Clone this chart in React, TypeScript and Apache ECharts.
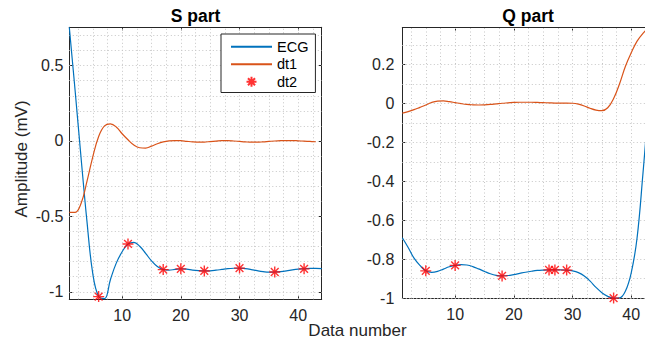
import React, { useEffect, useRef } from 'react';
import * as echarts from 'echarts';

// ---- data ----
const ecgS = [
  0.754, 0.33, -0.11, -0.53, -0.88, -1.032, -1.045, -0.92, -0.81, -0.735,
  -0.683, -0.672, -0.698, -0.745, -0.795, -0.833, -0.853, -0.856, -0.852, -0.848,
  -0.85, -0.856, -0.86, -0.862, -0.861, -0.857, -0.852, -0.847, -0.844, -0.843,
  -0.847, -0.853, -0.86, -0.866, -0.87, -0.869, -0.867, -0.862, -0.855, -0.85,
  -0.848, -0.845, -0.845, -0.846,
];
const dt1S = [
  -0.473, -0.473, -0.415, -0.27, -0.105, 0.03, 0.1, 0.113, 0.093, 0.048,
  0.008, -0.027, -0.045, -0.047, -0.034, -0.018, -0.006, 0.001, 0.003, 0.002,
  -0.002, -0.006, -0.008, -0.007, -0.004, -0.001, 0.002, 0.002, 0.0, -0.003,
  -0.006, -0.008, -0.008, -0.006, -0.003, 0.0, 0.002, 0.003, 0.003, 0.001,
  -0.001, -0.003, -0.005,
];
const dt2SX = [6, 11, 17, 20, 24, 30, 36, 41];
const dt2SY = [-1.032, -0.683, -0.853, -0.848, -0.862, -0.843, -0.869, -0.848];

const ecgQ = [
  -0.69, -0.74, -0.795, -0.832, -0.86, -0.868, -0.863, -0.851, -0.839, -0.832,
  -0.828, -0.83, -0.838, -0.85, -0.863, -0.875, -0.883, -0.886, -0.884, -0.879,
  -0.873, -0.867, -0.862, -0.858, -0.856, -0.855, -0.855, -0.855, -0.856, -0.86,
  -0.869, -0.886, -0.913, -0.945, -0.972, -0.991, -1.0, -0.999, -0.965, -0.87,
  -0.69, -0.36, 0.0, 0.28,
];
const dt1Q = [
  -0.05, -0.042, -0.032, -0.02, -0.008, 0.005, 0.012, 0.013, 0.009, 0.004,
  -0.001, -0.005, -0.007, -0.008, -0.007, -0.005, -0.002, 0.001, 0.003, 0.005,
  0.006, 0.006, 0.006, 0.005, 0.004, 0.003, 0.002, 0.002, 0.002, 0.001,
  -0.004, -0.013, -0.025, -0.034, -0.037, -0.022, 0.025, 0.1, 0.19, 0.26,
  0.32, 0.36, 0.39,
];
const dt2QX = [5, 10, 18, 26, 27, 29, 37];
const dt2QY = [-0.86, -0.832, -0.886, -0.855, -0.855, -0.856, -1.0];

const xTicks = [10, 20, 30, 40];
const yTicksS = [-1, -0.5, 0, 0.5];
const yTicksQ = [-1, -0.8, -0.6, -0.4, -0.2, 0, 0.2];
const xRange = [1, 44];
const yRangeS = [-1.05, 0.754];
const yRangeQ = [-1.002, 0.39];
const xGridStep = 2.5;
const yGridStep = 0.1;

// ---- styling ----
const FONT = "'Liberation Sans', Arial, Helvetica, sans-serif";
const AX = '#262626';
const BLUE = '#0072BD';
const ORANGE = '#D95319';
const STAR =
  'path://M0,5L10,5M5,0L5,10M1.464,1.464L8.536,8.536M1.464,8.536L8.536,1.464';

function gridValues(lo: number, hi: number, step: number) {
  const out: number[] = [];
  const start = Math.ceil(lo / step - 1e-9);
  const end = Math.floor(hi / step + 1e-9);
  for (let k = start; k <= end; k++) out.push(Math.round(k * step * 1000) / 1000);
  return out;
}

function xAxis(gridIndex: number, top: boolean) {
  return {
    type: 'value',
    gridIndex,
    position: top ? 'top' : 'bottom',
    min: xRange[0],
    max: xRange[1],
    axisLine: { show: true, onZero: false, lineStyle: { color: AX, width: 1 } },
    axisTick: {
      show: true,
      inside: true,
      length: 3,
      customValues: xTicks,
      lineStyle: { color: AX, width: 1 },
    },
    axisLabel: {
      show: !top,
      customValues: xTicks,
      margin: 8,
      color: AX,
      fontSize: 16,
      fontFamily: FONT,
    },
    splitLine: { show: false },
  };
}

function yAxis(gridIndex: number, right: boolean, range: number[], ticks: number[], margin: number) {
  return {
    type: 'value',
    gridIndex,
    position: right ? 'right' : 'left',
    min: range[0],
    max: range[1],
    axisLine: { show: true, onZero: false, lineStyle: { color: AX, width: 1 } },
    axisTick: {
      show: true,
      inside: true,
      length: 3,
      customValues: ticks,
      lineStyle: { color: AX, width: 1 },
    },
    axisLabel: {
      show: !right,
      customValues: ticks,
      margin,
      color: AX,
      fontSize: 16,
      fontFamily: FONT,
    },
    splitLine: { show: false },
  };
}

function gridSeries(xi: number, yi: number, yRange: number[]) {
  const xs = gridValues(xRange[0], xRange[1], xGridStep);
  const ys = gridValues(yRange[0], yRange[1], yGridStep);
  return {
    type: 'line',
    name: 'grid' + xi,
    xAxisIndex: xi,
    yAxisIndex: yi,
    data: [],
    silent: true,
    z: 1,
    markLine: {
      silent: true,
      z: 1,
      symbol: ['none', 'none'],
      label: { show: false },
      emphasis: { disabled: true },
      lineStyle: { color: '#c6c6c6', width: 1, type: [1, 2.5] },
      data: [
        ...xs.map((v) => ({ xAxis: v })),
        ...ys.map((v) => ({ yAxis: v })),
      ],
    },
  };
}

function lineSeries(name: string, color: string, values: number[], xi: number, yi: number) {
  return {
    type: 'line',
    name,
    xAxisIndex: xi,
    yAxisIndex: yi,
    data: values.map((v, i) => [i + 1, v]),
    symbol: 'none',
    smooth: 0.4,
    lineStyle: { color, width: 1.2 },
    // transparent item colour hides the legend's centre symbol; the line keeps its own colour
    itemStyle: { color: 'rgba(0,0,0,0)' },
    z: 2,
  };
}

function starSeries(xs: number[], ys: number[], xi: number, yi: number) {
  return {
    type: 'scatter',
    name: 'dt2',
    xAxisIndex: xi,
    yAxisIndex: yi,
    data: xs.map((x, i) => [x, ys[i]]),
    symbol: STAR,
    symbolSize: 11,
    symbolKeepAspect: true,
    clip: false,
    itemStyle: { color: '#FF0000', borderColor: '#FF0000', borderWidth: 1.4 },
    z: 3,
  };
}

export default function App() {
  const ref = useRef<HTMLDivElement>(null);
  useEffect(() => {
    if (!ref.current) return;
    const chart = echarts.init(ref.current, undefined, { renderer: 'svg' });
    const option: any = {
      animation: false,
      backgroundColor: '#ffffff',
      grid: [
        { left: 69.3, top: 27.3, width: 252.4, height: 272, outerBoundsMode: 'none' },
        { left: 402.3, top: 27.5, width: 252.4, height: 271, outerBoundsMode: 'none' },
      ],
      xAxis: [xAxis(0, false), xAxis(0, true), xAxis(1, false), xAxis(1, true)],
      yAxis: [
        yAxis(0, false, yRangeS, yTicksS, 6),
        yAxis(0, true, yRangeS, yTicksS, 6),
        yAxis(1, false, yRangeQ, yTicksQ, 8),
        yAxis(1, true, yRangeQ, yTicksQ, 8),
      ],
      legend: {
        data: ['ECG', 'dt1', 'dt2'],
        orient: 'vertical',
        left: 221,
        top: 34,
        itemWidth: 41,
        itemHeight: 10,
        itemGap: 0,
        padding: [4, 7, 2, 9],
        backgroundColor: '#ffffff',
        borderColor: AX,
        borderWidth: 1,
        borderRadius: 0,
        selectedMode: false,
        textStyle: { fontSize: 14.5, fontFamily: FONT, color: '#000', lineHeight: 17.5 },
      },
      series: [
        gridSeries(0, 0, yRangeS),
        gridSeries(2, 2, yRangeQ),
        lineSeries('ECG', BLUE, ecgS, 0, 0),
        lineSeries('dt1', ORANGE, dt1S, 0, 0),
        starSeries(dt2SX, dt2SY, 0, 0),
        lineSeries('ECG', BLUE, ecgQ, 2, 2),
        lineSeries('dt1', ORANGE, dt1Q, 2, 2),
        starSeries(dt2QX, dt2QY, 2, 2),
      ],
      graphic: [
        {
          type: 'text',
          x: 195.5,
          y: 15.5,
          style: {
            text: 'S part',
            font: `bold 17.5px ${FONT}`,
            fill: '#000',
            textAlign: 'center',
            textVerticalAlign: 'middle',
            align: 'center',
            verticalAlign: 'middle',
          },
        },
        {
          type: 'text',
          x: 528,
          y: 15.5,
          style: {
            text: 'Q part',
            font: `bold 17.5px ${FONT}`,
            fill: '#000',
            textAlign: 'center',
            textVerticalAlign: 'middle',
            align: 'center',
            verticalAlign: 'middle',
          },
        },
        {
          type: 'text',
          x: 21,
          y: 159,
          rotation: Math.PI / 2,
          style: {
            text: 'Amplitude (mV)',
            font: `17px ${FONT}`,
            fill: AX,
            textAlign: 'center',
            textVerticalAlign: 'middle',
            align: 'center',
            verticalAlign: 'middle',
          },
        },
        {
          type: 'text',
          x: 357.5,
          y: 330,
          style: {
            text: 'Data number',
            font: `17px ${FONT}`,
            fill: AX,
            textAlign: 'center',
            textVerticalAlign: 'middle',
            align: 'center',
            verticalAlign: 'middle',
          },
        },
      ],
    };
    chart.setOption(option);
    return () => chart.dispose();
  }, []);
  return (
    <div
      ref={ref}
      style={{ position: 'absolute', left: 0, top: 0, width: 645, height: 343 }}
    />
  );
}
